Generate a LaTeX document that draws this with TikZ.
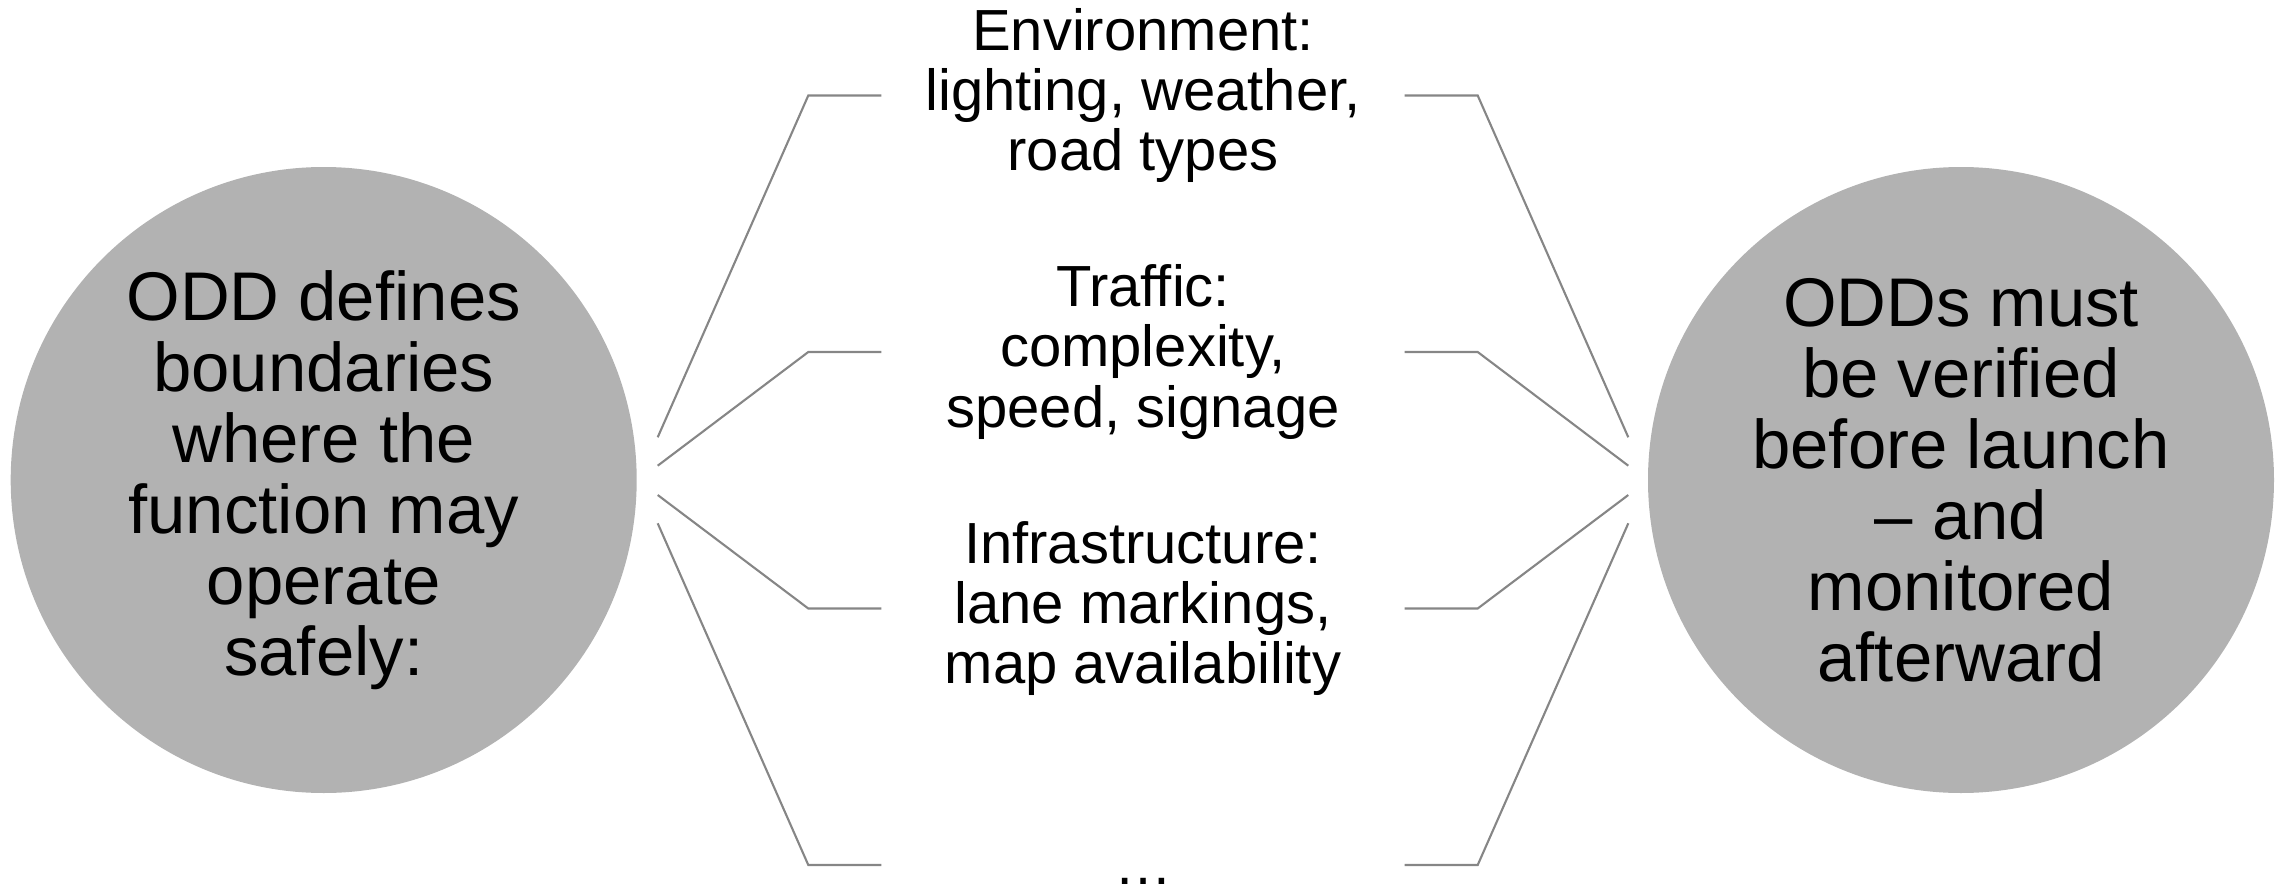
\documentclass[tikz,border=0pt]{standalone}
\usepackage{fontspec}
\setmainfont{Liberation Sans}
\definecolor{circgray}{RGB}{178,178,178}
\definecolor{linegray}{RGB}{134,134,134}
\tikzset{
  big/.style={circle, fill=circgray, minimum size=6.26cm, inner sep=0pt, align=center,
    font=\fontsize{19.6}{20.2}\selectfont},
  item/.style={minimum width=5.22cm, inner sep=0pt, align=center,
    font=\fontsize{16.5}{17.2}\selectfont},
  link/.style={draw=linegray, line width=0.6pt}
}
\begin{document}
\begin{tikzpicture}
      \useasboundingbox (0,0) rectangle (22.82,8.88);
      \node[big](L) at(3.237,4.08) {ODD defines\\boundaries\\where the\\function may\\operate\\safely:};
      \node[big](R) at(19.61,4.08) {ODDs must\\be verified\\before launch\\-- and\\monitored\\afterward};
      \foreach \x/\y/\t in {1/7.925/{Environment:\\lighting, weather,\\road types},
          2/5.36/{Traffic:\\complexity,\\speed, signage},
          3/2.795/{Infrastructure:\\lane markings,\\map availability},
          4/0.23/{\strut\raisebox{-0.07cm}{\ldots}}}{
        \node[item](N\x) at(11.43,\y) {\t};
      }
      \foreach \x/\s in {1/4.507, 2/4.223, 3/3.93, 4/3.647}{
        \coordinate(A\x) at(6.577,\s);
        \coordinate(B\x) at(16.283,\s);
        \draw[link](A\x) -- ([xshift=-0.73cm]N\x.west) -- (N\x.west);
        \draw[link](N\x.east) -- ([xshift=0.73cm]N\x.east) -- (B\x);
      }
    \end{tikzpicture}
\end{document}
